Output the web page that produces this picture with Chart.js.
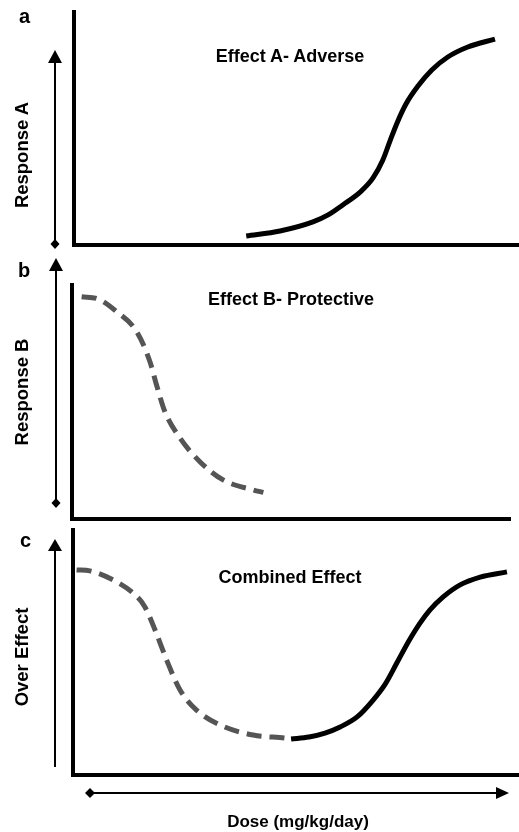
<!DOCTYPE html>
<html>
<head>
<meta charset="utf-8">
<script src="https://cdn.jsdelivr.net/npm/chart.js@4.4.1/dist/chart.umd.min.js"></script>
<style>
  html, body { margin: 0; padding: 0; background: #fff; }
  #page { position: relative; width: 519px; height: 832px; overflow: hidden;
          font-family: "Liberation Sans", Arial, Helvetica, sans-serif; font-weight: bold; color: #000; }
  .panel { position: absolute; }
  .lbl { position: absolute; white-space: nowrap; line-height: 1; font-size: 18px; }
  .letter { position: absolute; line-height: 1; font-size: 20px; }
  .ttl { transform: translateX(-50%); }
  .ylab { font-size: 18.5px; transform: translate(-50%, -50%) rotate(-90deg); }
  svg { position: absolute; left: 0; top: 0; }
</style>
</head>
<body>
<div id="page">
  <div class="panel" style="left:64px; top:4px; width:455px; height:250px;"><canvas id="chart-a"></canvas></div>
  <div class="panel" style="left:62px; top:277px; width:457px; height:251px;"><canvas id="chart-b"></canvas></div>
  <div class="panel" style="left:63px; top:522px; width:456px; height:262px;"><canvas id="chart-c"></canvas></div>

  <svg width="519" height="832">
    <g fill="#000" stroke="#000">
      <!-- panel a arrow -->
      <line x1="55" y1="60" x2="55" y2="244" stroke-width="2"/>
      <polygon points="55,50 48,63 62,63" stroke="none"/>
      <polygon points="55,239 59.5,244 55,249 50.5,244" stroke="none"/>
      <!-- panel b arrow -->
      <line x1="56" y1="266" x2="56" y2="503" stroke-width="2"/>
      <polygon points="56,258 49,271 63,271" stroke="none"/>
      <polygon points="56,498 60.5,503 56,508 51.5,503" stroke="none"/>
      <!-- panel c arrow -->
      <line x1="55" y1="548" x2="55" y2="767" stroke-width="2"/>
      <polygon points="55,539 48,551 62,551" stroke="none"/>
      <!-- dose arrow -->
      <line x1="90" y1="793" x2="500" y2="793" stroke-width="2"/>
      <polygon points="90,788 95,793 90,798 85,793" stroke="none"/>
      <polygon points="509,793 496,787 496,799" stroke="none"/>
    </g>
  </svg>

  <div class="letter" style="left:19px; top:6px;">a</div>
  <div class="letter" style="left:18px; top:260px;">b</div>
  <div class="letter" style="left:20px; top:530px;">c</div>

  <div class="lbl ttl" style="left:290px; top:47px;">Effect A- Adverse</div>
  <div class="lbl ttl" style="left:291px; top:290px;">Effect B- Protective</div>
  <div class="lbl ttl" style="left:290px; top:568px;">Combined Effect</div>
  <div class="lbl ttl" style="left:298px; top:813px; font-size:17px;">Dose (mg/kg/day)</div>

  <div class="lbl ylab" style="left:22px; top:155px;">Response A</div>
  <div class="lbl ylab" style="left:22px; top:392px;">Response B</div>
  <div class="lbl ylab" style="left:22px; top:657px;">Over Effect</div>
</div>

<script>
// Effect A - adverse (solid, rising)
const doseA = [38.7, 46.3, 53.7, 57.1, 60.4, 64.3, 67.2, 69.4, 71.0, 72.6, 74.6, 77.3, 80.4, 84.0, 88.5, 94.6]
const respA = [3.9, 6.0, 9.9, 12.9, 17.2, 22.7, 28.8, 36.5, 44.6, 52.4, 60.5, 68.2, 75.1, 80.7, 85.0, 88.4]

// Effect B - protective (dashed, falling)
const doseB = [2.2, 6.0, 10.2, 14.8, 17.8, 19.3, 21.2, 24.7, 29.2, 34.5, 41.4, 43.7]
const respB = [95.0, 94.0, 88.6, 80.0, 67.2, 57.3, 45.9, 34.5, 24.5, 16.7, 12.4, 11.4]

// Combined effect: protective part (dashed) then adverse part (solid)
const doseCProt = [0.8, 3.8, 8.7, 13.5, 16.1, 18.4, 21.0, 24.0, 27.7, 33.0, 40.4, 47.9, 48.9]
const respCProt = [83.7, 83.3, 79.9, 74.2, 68.7, 59.2, 46.9, 34.7, 26.5, 20.4, 16.3, 15.0, 14.7]
const doseCAdv = [48.9, 52.9, 56.5, 59.9, 63.7, 67.3, 70.0, 72.6, 75.3, 77.8, 80.0, 83.0, 86.8, 91.3, 97.3]
const respCAdv = [14.7, 15.5, 17.1, 19.6, 23.7, 30.6, 37.1, 45.7, 54.7, 62.0, 67.3, 72.7, 77.6, 80.8, 82.9]

const SOLID = '#000000'
const DASHED = '#555555'

const toPoints = (xs, ys) => xs.map((x, i) => ({ x, y: ys[i] }))

function solidSet(xs, ys) {
  return {
    data: toPoints(xs, ys),
    borderColor: SOLID,
    borderWidth: 5,
    cubicInterpolationMode: 'monotone',
    pointRadius: 0,
    borderCapStyle: 'butt',
  }
}

function dashedSet(xs, ys) {
  return {
    data: toPoints(xs, ys),
    borderColor: DASHED,
    borderWidth: 5,
    borderDash: [15, 8],
    cubicInterpolationMode: 'monotone',
    pointRadius: 0,
    borderCapStyle: 'butt',
  }
}

function axisOpts(min, max) {
  return {
    type: 'linear',
    min, max,
    grid: { display: false, drawTicks: false },
    ticks: { display: false },
    border: { display: true, width: 4, color: '#000' },
  }
}

function makeChart(id, datasets, padding) {
  new Chart(document.getElementById(id), {
    type: 'line',
    data: { datasets },
    options: {
      responsive: true,
      maintainAspectRatio: false,
      animation: false,
      layout: { padding, autoPadding: false },
      plugins: { legend: { display: false }, tooltip: { enabled: false } },
      scales: { x: axisOpts(0, 100), y: axisOpts(0, 100) },
    },
  })
}

makeChart('chart-a', [solidSet(doseA, respA)], { left: 10, top: 8, right: 0, bottom: 9 })
makeChart('chart-b', [dashedSet(doseB, respB)], { left: 10, top: 8, right: 9, bottom: 9 })
makeChart('chart-c', [dashedSet(doseCProt, respCProt), solidSet(doseCAdv, respCAdv)], { left: 10, top: 8, right: 0, bottom: 9 })
</script>
</body>
</html>
